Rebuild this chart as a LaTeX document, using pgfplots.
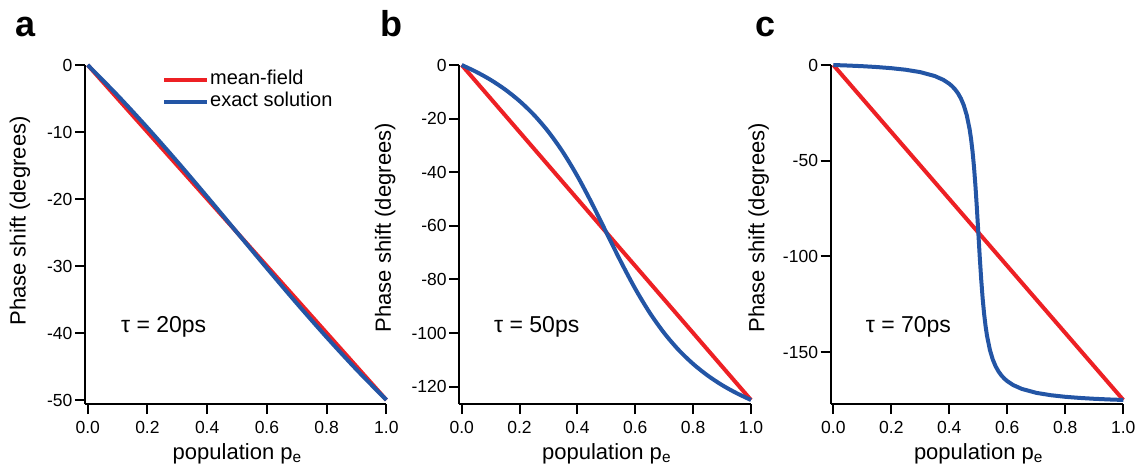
\documentclass[border=0pt]{standalone}
\usepackage{fontspec}
\setmainfont{Liberation Sans}
\usepackage{pgfplots}
\pgfplotsset{compat=1.18}
\definecolor{mfred}{RGB}{237,32,36}
\definecolor{exblue}{RGB}{35,85,165}

\pgfplotsset{panel/.style={
  scale only axis, height=339pt,
  axis lines*=left, axis line style={line width=2pt},
  tick align=outside, major tick length=10pt,
  tick style={black, line width=2pt},
  xmax=1, ymax=0,
  xtick={0,0.2,0.4,0.6,0.8,1},
  xticklabels={0.0,0.2,0.4,0.6,0.8,1.0},
  ticklabel style={font=\fontsize{17.5}{19}\selectfont},
  yticklabel style={inner sep=2.5pt},
  xticklabel style={inner sep=7pt},
  label style={font=\fontsize{22}{25}\selectfont},
  xlabel={population p\textsubscript{e}},
  ylabel={Phase shift (degrees)},
  xlabel style={at={(axis description cs:0.505,0)}, anchor=base, yshift=-55pt},
  clip=false,
  every axis plot/.append style={line width=4pt},
}}

\begin{document}
\begin{tikzpicture}
\useasboundingbox (0,0) rectangle (1140pt,466pt);

% panel a
\begin{axis}[panel, at={(85pt,62pt)}, anchor=south west, width=301.4pt,
  xmin=-0.009, ymin=-50.6,
  ytick={0,-10,-20,-30,-40,-50},
  yticklabels={0,-10,-20,-30,-40,-50},
  ylabel style={at={(axis description cs:-0.2157,0.54)}, anchor=center},
  legend style={draw=none, fill=none, at={(axis description cs:0.2555,0.986)}, anchor=north west,
    font=\fontsize{20}{22}\selectfont, inner sep=0pt, row sep=1pt,
    nodes={inner sep=1pt, text height=14pt, text depth=5pt}, cells={anchor=west}},
  legend image code/.code={\draw[#1, line width=4pt] (0pt,0pt) -- (31pt,0pt); \path (0pt,0pt) -- (43pt,0pt);},
]
\addplot[mfred] coordinates {(0,0) (1,-50)};
\addlegendentry{mean-field}
\addplot[exblue, smooth] coordinates {
(0,0) (0.1,-4.54) (0.2,-9.37) (0.3,-14.43) (0.4,-19.67) (0.5,-25)
(0.6,-30.33) (0.7,-35.57) (0.8,-40.63) (0.9,-45.46) (1,-50)};
\addlegendentry{exact solution}
\node[anchor=base west, font=\fontsize{23}{25}\selectfont] at (axis cs:0.1,-40) {τ = 20ps};
\end{axis}

% panel b
\begin{axis}[panel, at={(459.3pt,62pt)}, anchor=south west, width=291.7pt,
  xmin=-0.0083, ymin=-126.5,
  ytick={0,-20,-40,-60,-80,-100,-120},
  yticklabels={0,-20,-40,-60,-80,-100,-120},
  ylabel style={at={(axis description cs:-0.2537,0.52)}, anchor=center},
]
\addplot[mfred] coordinates {(0,0) (1,-125)};
\addplot[exblue, smooth] coordinates {
(0,0) (0.05,-2.55) (0.1,-5.55) (0.15,-9.14) (0.2,-13.45) (0.25,-18.65)
(0.3,-24.96) (0.35,-32.54) (0.4,-41.48) (0.45,-51.63) (0.5,-62.5)
(0.55,-73.37) (0.6,-83.52) (0.65,-92.46) (0.7,-100.04) (0.75,-106.35)
(0.8,-111.55) (0.85,-115.86) (0.9,-119.45) (0.95,-122.45) (1,-125)};
\node[anchor=base west, font=\fontsize{23}{25}\selectfont] at (axis cs:0.1,-100) {τ = 50ps};
\end{axis}

% panel c
\begin{axis}[panel, at={(830.7pt,62pt)}, anchor=south west, width=292.6pt,
  xmin=-0.009, ymin=-177.1,
  ytick={0,-50,-100,-150},
  yticklabels={0,-50,-100,-150},
  ylabel style={at={(axis description cs:-0.246,0.52)}, anchor=center},
]
\addplot[mfred] coordinates {(0,0) (1,-175)};
\addplot[exblue, line join=round] coordinates {
(0,0) (0.05,-0.28) (0.1,-0.62) (0.15,-1.07) (0.2,-1.66) (0.25,-2.49)
(0.3,-3.73) (0.35,-5.78) (0.38,-7.81) (0.4,-9.82) (0.41,-11.13)
(0.42,-12.76) (0.43,-14.82) (0.44,-17.49) (0.45,-21.09) (0.46,-26.13)
(0.47,-33.54) (0.475,-38.63) (0.48,-45.00) (0.485,-53.00) (0.49,-62.89)
(0.495,-74.60) (0.5,-87.5) (0.505,-100.40) (0.51,-112.11) (0.515,-122.00)
(0.52,-130.00) (0.525,-136.37) (0.53,-141.46) (0.54,-148.87) (0.55,-153.91)
(0.56,-157.51) (0.57,-160.18) (0.58,-162.24) (0.59,-163.87) (0.6,-165.18)
(0.62,-167.19) (0.65,-169.22) (0.7,-171.27) (0.75,-172.51) (0.8,-173.34)
(0.85,-173.93) (0.9,-174.38) (0.95,-174.72) (1,-175)};
\node[anchor=base west, font=\fontsize{23}{25}\selectfont] at (axis cs:0.1,-140) {τ = 70ps};
\end{axis}

\node[anchor=base west, font=\fontsize{36}{40}\selectfont\bfseries] at (12pt,429pt) {a};
\node[anchor=base west, font=\fontsize{36}{40}\selectfont\bfseries] at (377pt,429pt) {b};
\node[anchor=base west, font=\fontsize{36}{40}\selectfont\bfseries] at (752pt,429pt) {c};
\end{tikzpicture}
\end{document}
